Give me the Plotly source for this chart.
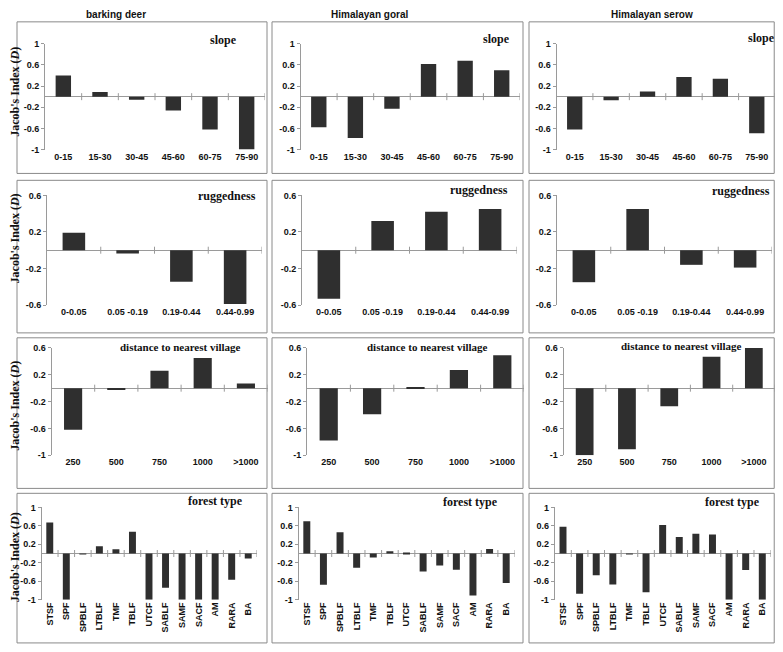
import plotly.graph_objects as go

# page body has an 8px margin; draw in a 767x636 figure offset by 8px
OFF = 8
W, H = 783 - 2 * OFF, 652 - 2 * OFF

species = ["barking deer", "Himalayan goral", "Himalayan serow"]

slope_cats = ["0-15", "15-30", "30-45", "45-60", "60-75", "75-90"]
slope_deer = [0.40, 0.09, -0.06, -0.26, -0.62, -1.0]
slope_goral = [-0.58, -0.78, -0.23, 0.62, 0.68, 0.50]
slope_serow = [-0.62, -0.07, 0.10, 0.37, 0.34, -0.69]

rug_cats = ["0-0.05", "0.05 -0.19", "0.19-0.44", "0.44-0.99"]
rug_deer = [0.19, -0.035, -0.345, -0.59]
rug_goral = [-0.53, 0.32, 0.42, 0.45]
rug_serow = [-0.35, 0.45, -0.16, -0.19]

dist_cats = ["250", "500", "750", "1000", ">1000"]
dist_deer = [-0.62, -0.02, 0.26, 0.45, 0.07]
dist_goral = [-0.78, -0.39, 0.015, 0.27, 0.49]
dist_serow = [-1.0, -0.91, -0.27, 0.47, 0.60]

forest_cats = ["STSF", "SPF", "SPBLF", "LTBLF", "TMF", "TBLF", "UTCF",
               "SABLF", "SAMF", "SACF", "AM", "RARA", "BA"]
forest_deer = [0.67, -1.0, -0.01, 0.16, 0.09, 0.47, -1.0, -0.74, -1.0, -1.0, -1.0, -0.57, -0.11]
forest_goral = [0.70, -0.68, 0.46, -0.31, -0.085, 0.05, 0.01, -0.39, -0.26, -0.35, -0.91, 0.10, -0.64]
forest_serow = [0.58, -0.87, -0.47, -0.67, -0.01, -0.84, 0.62, 0.36, 0.43, 0.41, -1.0, -0.36, -1.0]

tick_full = [1, 0.6, 0.2, -0.2, -0.6, -1]
tick_full_text = ["1", "0.6", "0.2", "-0.2", "-0.6", "-1"]
tick_rug = [0.6, 0.2, -0.2, -0.6]
tick_rug_text = ["0.6", "0.2", "-0.2", "-0.6"]
tick_dist = [0.6, 0.2, -0.2, -0.6, -1]
tick_dist_text = ["0.6", "0.2", "-0.2", "-0.6", "-1"]

rows = [
    dict(label="slope", cats=slope_cats, series=[slope_deer, slope_goral, slope_serow],
         yr=[-1, 1], tv=tick_full, tt=tick_full_text, angle=0),
    dict(label="ruggedness", cats=rug_cats, series=[rug_deer, rug_goral, rug_serow],
         yr=[-0.6, 0.6], tv=tick_rug, tt=tick_rug_text, angle=0),
    dict(label="distance to nearest village", cats=dist_cats, series=[dist_deer, dist_goral, dist_serow],
         yr=[-1, 0.6], tv=tick_dist, tt=tick_dist_text, angle=0),
    dict(label="forest type", cats=forest_cats, series=[forest_deer, forest_goral, forest_serow],
         yr=[-1, 1], tv=tick_full, tt=tick_full_text, angle=-90),
]

# pixel layout in page coordinates (style)
plot_y = [(39.3, 146.7), (193.3, 304.7), (348.3, 457.3), (510.3, 604.0)]
plot_x = [
    [(45, 265), (300.5, 520), (556.5, 780.5)],
    [(47, 262), (302, 517), (557, 772)],
    [(51.5, 267.5), (307, 524), (563.5, 778.5)],
    [(41.5, 256.5), (298.5, 514.5), (554.7, 770.6)],
]
box_x = [(17, 267), (272, 523), (529, 780)]
box_y = [(17, 171), (178, 333), (338, 491), (496, 648)]
label_pos = [
    [(239, 35), (512, 34), (777, 33)],
    [(258, 194), (510, 188), (772, 189)],
    [(243, 347), (490, 347), (744, 346)],
    [(245, 504), (500, 505), (762, 505)],
]
label_size = [12, 12, 11, 12]
title_x = [116, 369, 652]
ytitle_y = [88, 237, 407, 561]
ytitle_x = 15

BAR = "#2f2f2f"
AX = "#9a9a9a"
SANS = "Liberation Sans, Arial, sans-serif"
SERIF = "Liberation Serif, Times New Roman, serif"


def px_x(v):
    return (v - OFF) / W


def px_y(v):
    return 1 - (v - OFF) / H


fig = go.Figure()
layout = dict(
    width=W, height=H, margin=dict(l=0, r=0, t=0, b=0),
    paper_bgcolor="white", plot_bgcolor="rgba(0,0,0,0)",
    showlegend=False, bargap=0.58,
)
shapes = []
annotations = []

for r, row in enumerate(rows):
    n = len(row["cats"])
    idx = list(range(n))
    for c in range(3):
        k = r * 3 + c + 1
        xa = "x" if k == 1 else f"x{k}"
        ya = "y" if k == 1 else f"y{k}"
        fig.add_trace(go.Bar(x=idx, y=row["series"][c], xaxis=xa, yaxis=ya,
                             marker=dict(color=BAR, line=dict(width=0)), width=0.42))
        # small boundary ticks on the zero line
        fig.add_trace(go.Scatter(x=[i + 0.5 for i in idx], y=[0] * n, xaxis=xa, yaxis=ya,
                                 mode="markers", hoverinfo="skip",
                                 marker=dict(symbol="line-ns", size=5,
                                             line=dict(width=1, color=AX))))
        x0, x1 = plot_x[r][c]
        yt, yb = plot_y[r]
        layout["xaxis" if k == 1 else f"xaxis{k}"] = dict(
            domain=[px_x(x0), min(px_x(x1), 1)], anchor=ya, range=[-0.5, n - 0.5],
            tickvals=idx, ticktext=row["cats"], tickangle=row["angle"],
            showline=False, ticks="", showgrid=False, zeroline=False,
            tickfont=dict(family=SANS, size=9, color="#111", weight="bold"),
        )
        layout["yaxis" if k == 1 else f"yaxis{k}"] = dict(
            domain=[px_y(yb), px_y(yt)], anchor=xa, range=row["yr"],
            tickvals=row["tv"], ticktext=row["tt"],
            showline=True, linecolor=AX, linewidth=1,
            ticks="outside", ticklen=3, tickcolor=AX,
            showgrid=False, zeroline=True, zerolinecolor=AX, zerolinewidth=1,
            tickfont=dict(family=SANS, size=9, color="#111", weight="bold"),
        )
        bx0, bx1 = box_x[c]
        by0, by1 = box_y[r]
        shapes.append(dict(type="rect", xref="paper", yref="paper",
                           x0=px_x(bx0), x1=min(px_x(bx1), 0.999), y0=px_y(by1), y1=px_y(by0),
                           line=dict(color="#8a8a8a", width=1), layer="below"))
        lx, ly = label_pos[r][c]
        annotations.append(dict(text=row["label"], xref="paper", yref="paper",
                                x=px_x(lx), y=px_y(ly), xanchor="right", yanchor="middle",
                                showarrow=False,
                                font=dict(family=SERIF, size=label_size[r], color="#111", weight="bold")))
    annotations.append(dict(text="Jacob's Index (<i>D</i>)", xref="paper", yref="paper",
                            x=px_x(ytitle_x), y=px_y(ytitle_y[r]), xanchor="center", yanchor="middle",
                            textangle=-90, showarrow=False,
                            font=dict(family=SERIF, size=12, color="#111", weight="bold")))

for c, name in enumerate(species):
    annotations.append(dict(text=name, xref="paper", yref="paper",
                            x=px_x(title_x[c]), y=px_y(10), xanchor="center", yanchor="middle",
                            showarrow=False,
                            font=dict(family=SANS, size=10, color="#111", weight="bold")))

layout["shapes"] = shapes
layout["annotations"] = annotations
fig.update_layout(**layout)
fig.write_html("out.html")
